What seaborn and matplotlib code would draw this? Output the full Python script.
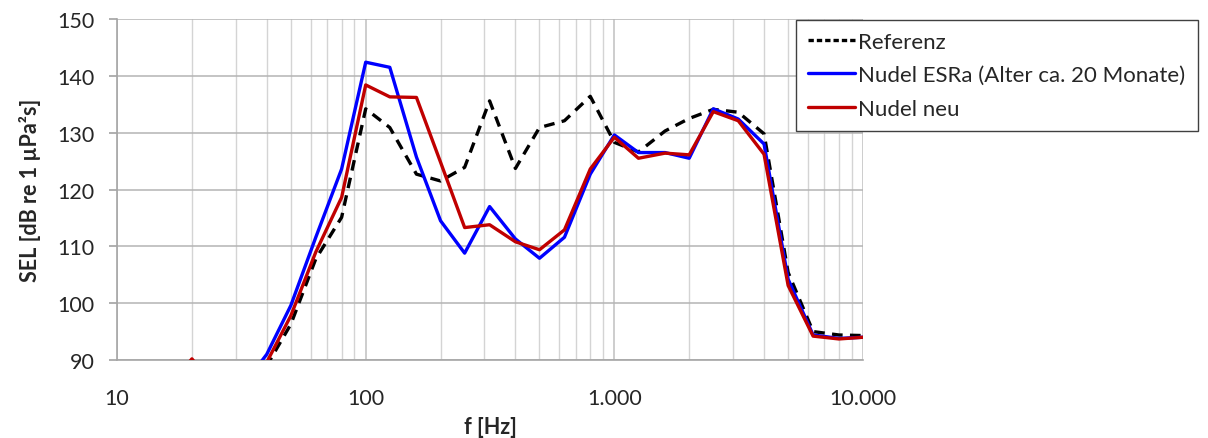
import matplotlib
matplotlib.use("Agg")
import matplotlib.pyplot as plt
import matplotlib.ticker as mticker
import seaborn as sns
import pandas as pd

# third-octave band centre frequencies [Hz]
freqs = [10, 12.5, 16, 20, 25, 31.5, 40, 50, 63, 80, 100, 125, 160, 200, 250,
         315, 400, 500, 630, 800, 1000, 1250, 1600, 2000, 2500, 3150, 4000,
         5000, 6300, 8000, 10000]

# SEL values [dB re 1 µPa²s] (values < 90 are off-axis)
sel_referenz = [80.0, 80.5, 81.0, 82.0, 83.0, 84.5, 89.0, 96.3, 107.8, 115.1,
                134.2, 130.9, 122.7, 121.5, 123.9, 135.6, 123.7, 130.9, 132.1,
                136.4, 128.3, 126.6, 130.3, 132.5, 134.1, 133.6, 129.8, 105.4,
                95.0, 94.4, 94.3]
sel_esra = [81.0, 81.5, 82.0, 83.0, 84.0, 85.0, 91.0, 99.6, 111.6, 123.6,
            142.4, 141.5, 125.7, 114.5, 108.8, 117.0, 111.3, 107.9, 111.6,
            122.7, 129.6, 126.5, 126.5, 125.5, 134.2, 132.4, 128.0, 104.2,
            94.4, 93.8, 94.0]
sel_neu = [82.0, 83.0, 85.0, 90.2, 85.0, 84.0, 89.6, 97.8, 109.0, 118.6,
           138.4, 136.3, 136.2, 124.8, 113.3, 113.8, 110.8, 109.4, 112.9,
           123.6, 129.2, 125.5, 126.4, 126.1, 133.7, 132.1, 126.2, 103.1,
           94.2, 93.7, 94.0]

labels = ["Referenz", "Nudel ESRa (Alter ca. 20 Monate)", "Nudel neu"]
colors = {"Referenz": "black",
          "Nudel ESRa (Alter ca. 20 Monate)": "#0000ff",
          "Nudel neu": "#c00000"}

df = pd.concat([
    pd.DataFrame({"f": freqs, "SEL": sel_referenz, "Serie": labels[0]}),
    pd.DataFrame({"f": freqs, "SEL": sel_esra, "Serie": labels[1]}),
    pd.DataFrame({"f": freqs, "SEL": sel_neu, "Serie": labels[2]}),
])

sns.set_theme(style="white")
plt.rcParams["font.family"] = ["Lato", "DejaVu Sans"]
fs = 15.5

fig = plt.figure(figsize=(12.08, 4.39), dpi=100)
ax = fig.add_axes([0.0969, 0.1777, 0.6175, 0.7767])

sns.lineplot(data=df, x="f", y="SEL", hue="Serie", style="Serie",
             palette=colors,
             dashes={labels[0]: (3.2, 2.2), labels[1]: "", labels[2]: ""},
             linewidth=2.4, ax=ax, legend=False, zorder=3)

ax.set_xscale("log")
ax.set_xlim(10, 10000)
ax.set_ylim(90, 150)
ax.set_yticks(range(90, 151, 10))

ax.xaxis.set_major_locator(mticker.FixedLocator([10, 100, 1000, 10000]))
ax.xaxis.set_major_formatter(
    mticker.FuncFormatter(lambda v, p: f"{int(v):,}".replace(",", ".")))
ax.xaxis.set_minor_locator(mticker.LogLocator(base=10, subs=range(2, 10)))
ax.xaxis.set_minor_formatter(mticker.NullFormatter())

ax.grid(True, which="major", axis="y", color="#b4b4b4", linewidth=1.1)
ax.grid(True, which="major", axis="x", color="#c0c0c0", linewidth=1.1)
ax.grid(True, which="minor", axis="x", color="#d4d4d4", linewidth=1.0)
ax.set_axisbelow(True)

for side in ["top", "right"]:
    ax.spines[side].set_visible(False)
for side in ["left", "bottom"]:
    ax.spines[side].set_color("#a6a6a6")
    ax.spines[side].set_linewidth(1.2)

ax.tick_params(axis="y", which="major", left=True, length=6, color="#a6a6a6",
               labelsize=fs, pad=10)
ax.tick_params(axis="x", which="both", bottom=False, labelsize=fs, pad=14)

ax.set_xlabel("f [Hz]", fontsize=fs, fontweight="bold", labelpad=6)
ax.set_ylabel("SEL [dB re 1 µPa²s]", fontsize=fs, fontweight="bold",
              labelpad=12)

handles = [plt.Line2D([], [], color=colors[l], linewidth=2.4,
                      linestyle=(0, (1.6, 0.9)) if l == labels[0] else "-")
           for l in labels]
leg = fig.legend(handles, labels, loc="upper left",
                 bbox_to_anchor=(0.659, 0.953), fontsize=16,
                 frameon=True, fancybox=False, edgecolor="#404040",
                 framealpha=1, handlelength=2.1, handletextpad=0.15,
                 labelspacing=0.6, borderpad=0.55, borderaxespad=0)
leg.get_frame().set_linewidth(1.0)

fig.savefig("out.png", dpi=100)
